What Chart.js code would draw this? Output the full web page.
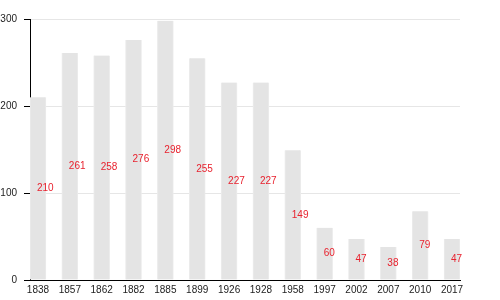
<!DOCTYPE html>
<html>
<head>
<meta charset="utf-8">
<script src="https://cdn.jsdelivr.net/npm/chart.js@4"></script>
<style>
  html, body { margin: 0; padding: 0; background: #fff; }
  #wrap { width: 500px; height: 300px; }
</style>
</head>
<body>
<div id="wrap"><canvas id="popChart" width="500" height="300"></canvas></div>
<script>
// population by census year
const years = ['1838', '1857', '1862', '1882', '1885', '1899', '1926', '1928', '1958', '1997', '2002', '2007', '2010', '2017'];
const population = [210, 261, 258, 276, 298, 255, 227, 227, 149, 60, 47, 38, 79, 47];
const yTicks = [0, 100, 200, 300];

// red value labels, drawn halfway up each bar
const valueLabels = {
    id: 'valueLabels',
    afterDatasetsDraw(chart) {
        const ctx = chart.ctx;
        const meta = chart.getDatasetMeta(0);
        ctx.save();
        ctx.font = '10px "Liberation Sans", Arial, sans-serif';
        ctx.fillStyle = '#e8222e';
        ctx.textAlign = 'left';
        ctx.textBaseline = 'middle';
        meta.data.forEach((bar, i) => {
            ctx.fillText(String(population[i]), bar.x - 1, (bar.y + bar.base) / 2);
        });
        ctx.restore();
    }
};

const ctx = document.getElementById('popChart').getContext('2d');
new Chart(ctx, {
    type: 'bar',
    data: {
        datasets: [{
            data: population.map((v, i) => ({ x: i, y: v })),
            backgroundColor: '#e4e4e4',
            borderColor: '#ececec',
            borderWidth: { left: 1, right: 1, top: 0, bottom: 0 },
            barThickness: 16
        }]
    },
    options: {
        responsive: false,
        animation: false,
        layout: { padding: { top: 19, right: 40, left: 0, bottom: 0 } },
        plugins: {
            legend: { display: false },
            tooltip: { enabled: false }
        },
        scales: {
            x: {
                type: 'linear',
                offset: false,
                min: -0.25,
                max: 13.25,
                afterBuildTicks: (scale) => { scale.ticks = years.map((_, i) => ({ value: i })); },
                afterFit: (scale) => { scale.height = 20; },
                grid: { display: false, drawTicks: false, offset: false },
                border: { color: '#000', width: 1 },
                ticks: {
                    autoSkip: false,
                    maxRotation: 0,
                    padding: 4,
                    color: '#222',
                    font: { size: 10, family: '"Liberation Sans", Arial, sans-serif' },
                    callback: (v) => years[v]
                }
            },
            y: {
                min: 0,
                max: 300,
                afterBuildTicks: (scale) => { scale.ticks = yTicks.map(v => ({ value: v })); },
                afterFit: (scale) => { scale.width = 30; },
                grid: { color: '#e6e6e6', tickColor: '#000', tickLength: 6 },
                border: { color: '#000', width: 1 },
                ticks: {
                    padding: 7,
                    color: '#222',
                    font: { size: 10, family: '"Liberation Sans", Arial, sans-serif' }
                }
            }
        }
    },
    plugins: [valueLabels]
});
</script>
</body>
</html>
